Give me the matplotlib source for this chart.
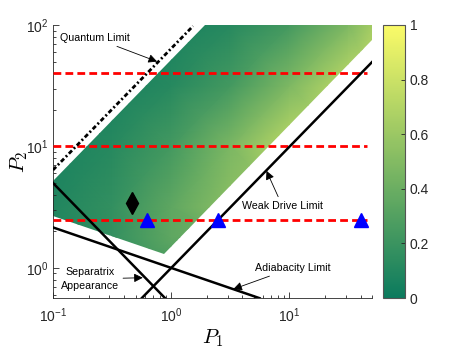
import numpy as np
import matplotlib
matplotlib.use('Agg')
import matplotlib.pyplot as plt
from matplotlib.colors import LinearSegmentedColormap
from matplotlib.patches import Polygon
from matplotlib.ticker import LogLocator, NullFormatter, FixedLocator

plt.rcParams['font.family'] = ['Liberation Sans', 'DejaVu Sans']
plt.rcParams['mathtext.fontset'] = 'custom'
plt.rcParams['mathtext.rm'] = 'Liberation Sans'
plt.rcParams['mathtext.it'] = 'Liberation Sans:italic'

# ---- data ----
grid_P1 = [0.1, 0.316, 1, 3.16, 10, 31.6, 50]
grid_P2 = [1, 1.78, 3.16, 10, 31.6, 100]
grid_vals = [
    [0.08, 0.16, 0.25, 0.25, 0.25, 0.25, 0.25],
    [0.09, 0.17, 0.35, 0.38, 0.38, 0.38, 0.38],
    [0.09, 0.17, 0.35, 0.54, 0.54, 0.54, 0.54],
    [0.06, 0.12, 0.24, 0.47, 0.74, 0.74, 0.74],
    [0.03, 0.06, 0.12, 0.24, 0.48, 0.75, 0.75],
    [0.015, 0.03, 0.06, 0.12, 0.24, 0.48, 0.63],
]
region_P1 = [0.1, 1.92, 50, 50, 0.872, 0.1]
region_P2 = [5.2, 100, 100, 75, 1.31, 2.69]

quantum_P1 = [0.1, 1.53]
quantum_P2 = [6.4, 98]
weak_P1 = [0.565, 50]
weak_P2 = [0.565, 49.5]
adiab_P1 = [0.1, 5.6]
adiab_P2 = [2.154, 0.563]
separ_P1 = [0.1, 0.89]
separ_P2 = [5.0, 0.562]

red_P2 = [2.5, 10, 40]
red_P1_span = [0.1, 45]

tri_P1 = [0.625, 2.5, 40]
tri_P2 = [2.5, 2.5, 2.5]
dia_P1 = [0.47]
dia_P2 = [3.4]

cmap_colors = ['#0b7a5e', '#fbfb68']
cbar_ticks = [0, 0.2, 0.4, 0.6, 0.8, 1]

# ---- figure ----
fig = plt.figure(figsize=(4.67, 3.5), dpi=100)
ax = fig.add_axes([53/467, 1-298/350, 319/467, 273/350])
cax = fig.add_axes([383/467, 1-298/350, 22/467, 273/350])

cmap = LinearSegmentedColormap.from_list('tealyellow', cmap_colors)

ax.set_xscale('log')
ax.set_yscale('log')
ax.set_xlim(0.1, 50)
ax.set_ylim(0.565, 100)

mesh = ax.pcolormesh(grid_P1, grid_P2, np.array(grid_vals), shading='gouraud',
                     cmap=cmap, vmin=0, vmax=1, zorder=1)
poly = Polygon(np.column_stack([region_P1, region_P2]), closed=True,
               transform=ax.transData, facecolor='none', edgecolor='none')
ax.add_patch(poly)
mesh.set_clip_path(poly)

for y in red_P2:
    ax.plot(red_P1_span, [y, y], color='#ff0000', lw=2.0, dashes=(2.8, 1.5), zorder=3)

ax.plot(quantum_P1, quantum_P2, color='black', lw=2.0,
        dashes=(1.6, 0.9, 0.7, 0.9), zorder=4)
ax.plot(weak_P1, weak_P2, color='black', lw=1.8, zorder=4)
ax.plot(adiab_P1, adiab_P2, color='black', lw=1.8, zorder=4)
ax.plot(separ_P1, separ_P2, color='black', lw=1.8, zorder=4)

ax.plot(tri_P1, tri_P2, linestyle='none', marker='^', ms=10, color='#0000ff', zorder=5)
ax.plot(dia_P1, dia_P2, linestyle='none', marker='d', ms=11, color='black', zorder=5)

arrow = dict(arrowstyle='-|>', color='black', lw=0.6, mutation_scale=13,
             shrinkA=1, shrinkB=0)
fs = 7.7
ax.annotate('Quantum Limit', xy=(0.76, 50), xytext=(0.115, 78),
            fontsize=fs, ha='left', va='center', arrowprops=arrow, zorder=6)
ax.annotate('Weak Drive Limit', xy=(6.4, 6.3), xytext=(8.7, 3.25),
            fontsize=fs, ha='center', va='center', arrowprops=arrow, zorder=6)
ax.annotate('Adiabacity Limit', xy=(3.35, 0.668), xytext=(10.6, 1.0),
            fontsize=fs, ha='center', va='center', arrowprops=arrow, zorder=6)
ax.annotate('Separatrix\nAppearance', xy=(0.575, 0.83), xytext=(0.205, 0.81),
            fontsize=fs, ha='center', va='center', linespacing=1.4,
            arrowprops=arrow, zorder=6)

for side in ['top', 'right']:
    ax.spines[side].set_visible(False)
for side in ['left', 'bottom']:
    ax.spines[side].set_color('#262626')
    ax.spines[side].set_linewidth(0.6)

ax.xaxis.set_major_locator(FixedLocator([0.1, 1, 10]))
ax.yaxis.set_major_locator(FixedLocator([1, 10, 100]))
ax.xaxis.set_minor_locator(LogLocator(base=10, subs=np.arange(2, 10)))
ax.yaxis.set_minor_locator(LogLocator(base=10, subs=np.arange(2, 10)))
ax.xaxis.set_minor_formatter(NullFormatter())
ax.yaxis.set_minor_formatter(NullFormatter())
ax.set_xticklabels([r'$10^{-1}$', r'$10^{0}$', r'$10^{1}$'])
ax.set_yticklabels([r'$10^{0}$', r'$10^{1}$', r'$10^{2}$'])
ax.tick_params(which='both', direction='in', colors='#262626', labelsize=10, width=0.6)
ax.tick_params(which='major', length=4)
ax.tick_params(which='minor', length=2)
ax.tick_params(axis='x', pad=6)

ax.set_xlabel('$P_1$', math_fontfamily='cm', fontsize=15, labelpad=2)
ax.set_ylabel('$P_2$', math_fontfamily='cm', fontsize=15, labelpad=-3)

cb = fig.colorbar(mesh, cax=cax, ticks=cbar_ticks)
cb.ax.set_yticklabels(['0', '0.2', '0.4', '0.6', '0.8', '1'])
cb.outline.set_edgecolor('#555555')
cb.outline.set_linewidth(0.8)
cb.ax.tick_params(direction='in', length=3, colors='#262626', labelsize=10, width=0.6)

fig.savefig('out.png', dpi=100)
